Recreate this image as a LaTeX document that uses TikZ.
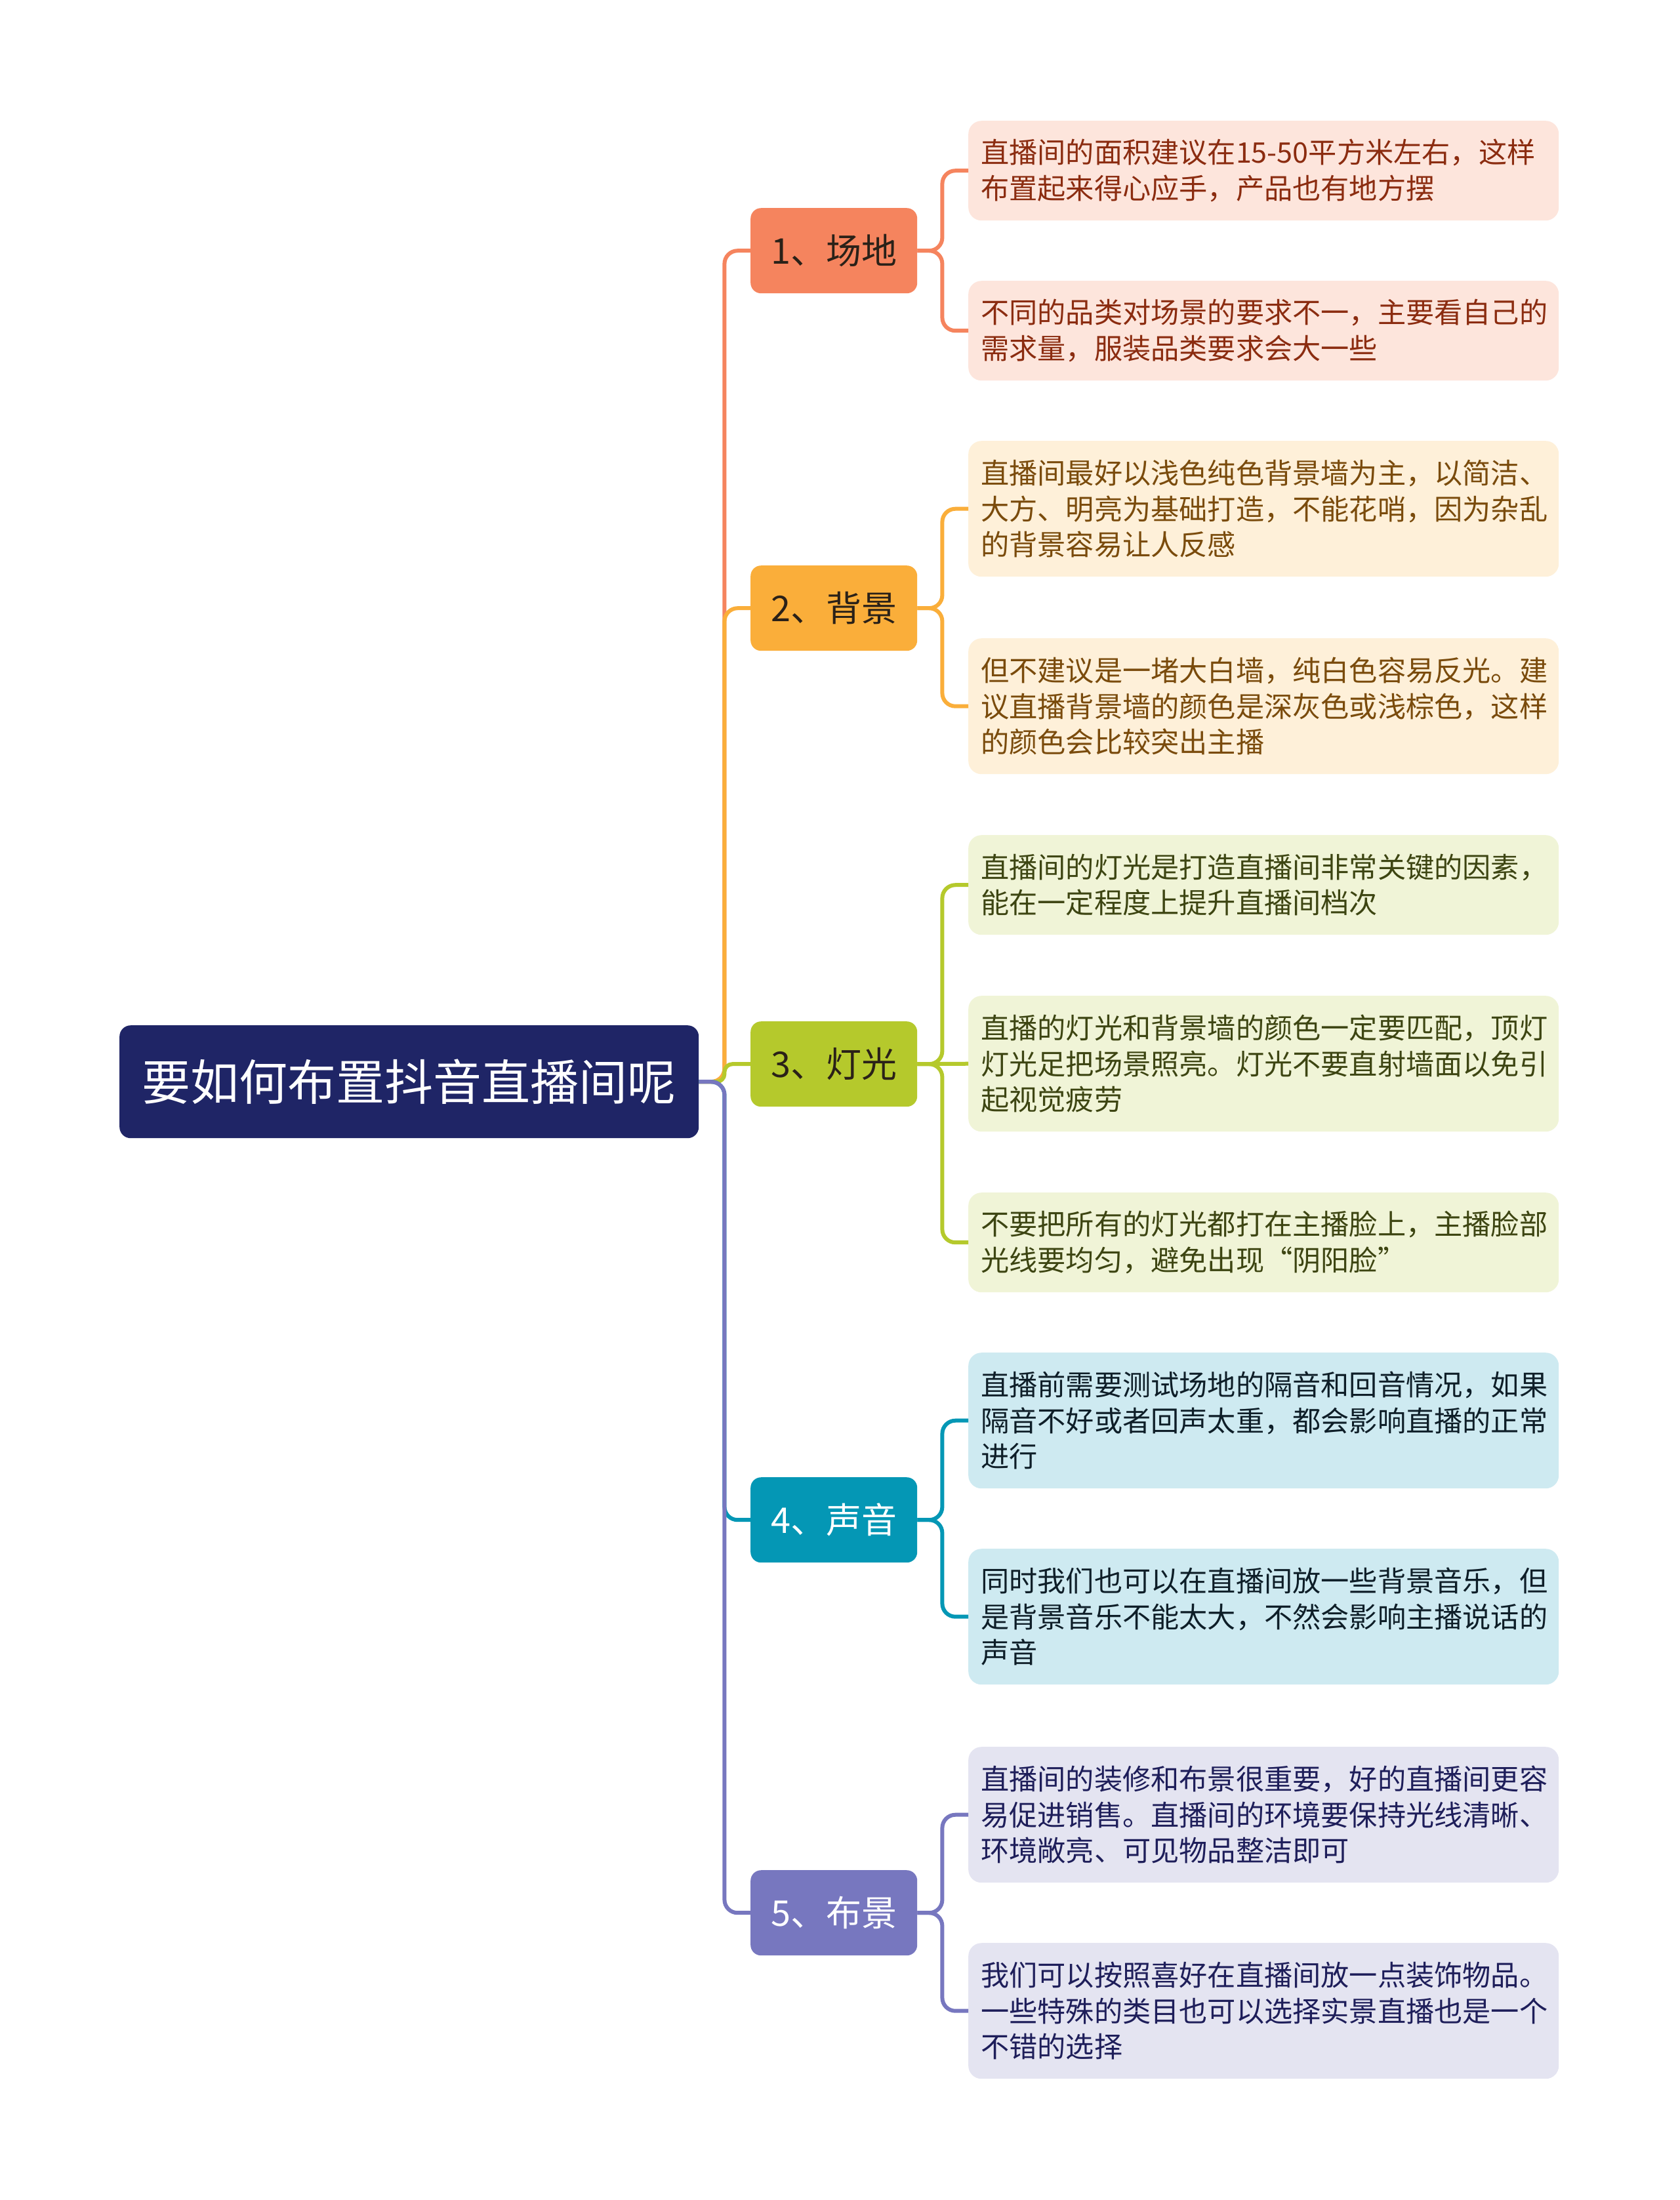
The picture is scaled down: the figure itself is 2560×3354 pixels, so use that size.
\documentclass[tikz,border=0pt]{standalone}
\usepackage{fontspec}
\setmainfont{Noto Sans CJK SC}
\definecolor{cRoot}{HTML}{1F2566}
\definecolor{cA}{HTML}{F5845E}
\definecolor{cB}{HTML}{FAAE3A}
\definecolor{cC}{HTML}{B5C92C}
\definecolor{cD}{HTML}{0497B5}
\definecolor{cE}{HTML}{7777BF}
\definecolor{lA}{HTML}{FDE5DC}
\definecolor{lB}{HTML}{FEF0D9}
\definecolor{lC}{HTML}{F0F4D7}
\definecolor{lD}{HTML}{CEEAF1}
\definecolor{lE}{HTML}{E4E4F1}
\definecolor{tA}{HTML}{8B2C10}
\definecolor{tB}{HTML}{7A4B0C}
\definecolor{tC}{HTML}{3D4512}
\definecolor{tD}{HTML}{0E1E28}
\definecolor{tE}{HTML}{1E1E5A}
\definecolor{tDark}{HTML}{2A2118}
\newcommand\leaffont{\fontsize{43.2pt}{54.5pt}\selectfont}
\newcommand\branchfont{\fontsize{54pt}{62pt}\selectfont}
\newcommand\rootfont{\fontsize{74pt}{86pt}\selectfont}
\tikzset{
  leafbox/.style={rounded corners=20pt, minimum width=900pt, text width=862pt,
    inner xsep=19pt, inner ysep=0pt, align=left, anchor=north west, font=\leaffont},
  leaftwo/.style={leafbox, minimum height=152pt},
  leafthree/.style={leafbox, minimum height=207pt},
  branchbox/.style={rounded corners=16pt, minimum width=254pt, minimum height=130pt,
    inner sep=0pt, anchor=north west, font=\branchfont},
  rootbox/.style={rounded corners=17pt, minimum width=883pt, minimum height=172pt,
    inner sep=0pt, anchor=north west, font=\rootfont, fill=cRoot, text=white},
  link/.style={line width=6pt, rounded corners=20pt},
}
\begin{document}
\begin{tikzpicture}[x=1pt,y=-1pt]
\fill[white] (0,0) rectangle (2560,3354);
\useasboundingbox (0,0) rectangle (2560,3354);

% root
\node[rootbox] (root) at (182,1563) {要如何布置抖音直播间呢};

% branches
\node[branchbox, fill=cA, text=tDark] (b1) at (1144,317) {1、场地};
\node[branchbox, fill=cB, text=tDark] (b2) at (1144,862) {2、背景};
\node[branchbox, fill=cC, text=tDark] (b3) at (1144,1557) {3、灯光};
\node[branchbox, fill=cD, text=white] (b4) at (1144,2252) {4、声音};
\node[branchbox, fill=cE, text=white] (b5) at (1144,2851) {5、布景};

% leaves
\node[leaftwo, fill=lA, text=tA] (l1a) at (1476,184) {直播间的面积建议在15-50平方米左右，这样\\布置起来得心应手，产品也有地方摆};
\node[leaftwo, fill=lA, text=tA] (l1b) at (1476,428) {不同的品类对场景的要求不一，主要看自己的\\需求量，服装品类要求会大一些};
\node[leafthree, fill=lB, text=tB] (l2a) at (1476,672) {直播间最好以浅色纯色背景墙为主，以简洁、\\大方、明亮为基础打造，不能花哨，因为杂乱\\的背景容易让人反感};
\node[leafthree, fill=lB, text=tB] (l2b) at (1476,973) {但不建议是一堵大白墙，纯白色容易反光。建\\议直播背景墙的颜色是深灰色或浅棕色，这样\\的颜色会比较突出主播};
\node[leaftwo, fill=lC, text=tC] (l3a) at (1476,1273) {直播间的灯光是打造直播间非常关键的因素，\\能在一定程度上提升直播间档次};
\node[leafthree, fill=lC, text=tC] (l3b) at (1476,1518) {直播的灯光和背景墙的颜色一定要匹配，顶灯\\灯光足把场景照亮。灯光不要直射墙面以免引\\起视觉疲劳};
\node[leaftwo, fill=lC, text=tC] (l3c) at (1476,1818) {不要把所有的灯光都打在主播脸上，主播脸部\\光线要均匀，避免出现“阴阳脸”};
\node[leafthree, fill=lD, text=tD] (l4a) at (1476,2062) {直播前需要测试场地的隔音和回音情况，如果\\隔音不好或者回声太重，都会影响直播的正常\\进行};
\node[leafthree, fill=lD, text=tD] (l4b) at (1476,2361) {同时我们也可以在直播间放一些背景音乐，但\\是背景音乐不能太大，不然会影响主播说话的\\声音};
\node[leafthree, fill=lE, text=tE] (l5a) at (1476,2663) {直播间的装修和布景很重要，好的直播间更容\\易促进销售。直播间的环境要保持光线清晰、\\环境敞亮、可见物品整洁即可};
\node[leafthree, fill=lE, text=tE] (l5b) at (1476,2962) {我们可以按照喜好在直播间放一点装饰物品。\\一些特殊的类目也可以选择实景直播也是一个\\不错的选择};

% root to branches
\draw[link, cA] (root.east) -- ++(39,0) |- (b1.west);
\draw[link, cB] (root.east) -- ++(39,0) |- (b2.west);
\draw[link, cC, rounded corners=12pt] (root.east) -- ++(39,0) |- (b3.west);
\draw[link, cD] (root.east) -- ++(39,0) |- (b4.west);
\draw[link, cE] (root.east) -- ++(39,0) |- (b5.west);

% branch to leaves
\draw[link, cA] (b1.east) -- ++(38,0) |- (l1a.west);
\draw[link, cA] (b1.east) -- ++(38,0) |- (l1b.west);
\draw[link, cB] (b2.east) -- ++(38,0) |- (l2a.west);
\draw[link, cB] (b2.east) -- ++(38,0) |- (l2b.west);
\draw[link, cC] (b3.east) -- ++(38,0) |- (l3a.west);
\draw[link, cC] (b3.east) -- (l3b.west);
\draw[link, cC] (b3.east) -- ++(38,0) |- (l3c.west);
\draw[link, cD] (b4.east) -- ++(38,0) |- (l4a.west);
\draw[link, cD] (b4.east) -- ++(38,0) |- (l4b.west);
\draw[link, cE] (b5.east) -- ++(38,0) |- (l5a.west);
\draw[link, cE] (b5.east) -- ++(38,0) |- (l5b.west);
\end{tikzpicture}
\end{document}
